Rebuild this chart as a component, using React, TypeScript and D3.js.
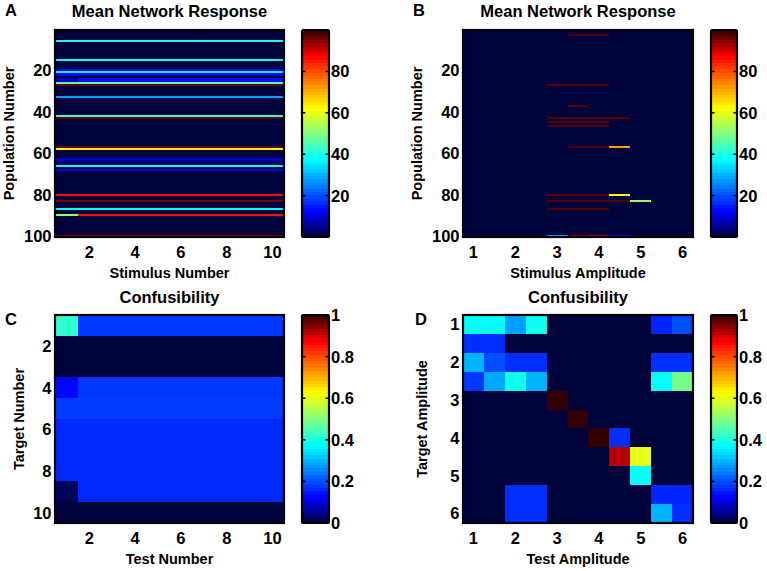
import React from 'react';
import * as d3 from 'd3';

// ---------------- data ----------------
const populationNumbers = d3.range(1, 101);
const stimulusNumbers = [1, 2, 3, 4, 5, 6, 7, 8, 9, 10];
const stimulusAmplitudes = [1, 1.5, 2, 2.5, 3, 3.5, 4, 4.5, 5, 5.5, 6];
const targetNumbers = [1, 2, 3, 4, 5, 6, 7, 8, 9, 10];
const testNumbers = [1, 2, 3, 4, 5, 6, 7, 8, 9, 10];
const targetAmplitudes = [1, 1.5, 2, 2.5, 3, 3.5, 4, 4.5, 5, 5.5, 6];
const testAmplitudes = [1, 1.5, 2, 2.5, 3, 3.5, 4, 4.5, 5, 5.5, 6];

// Panel A: populations with a non-zero mean response (all other rows are 0)
const responseARows = [6, 15, 20, 21, 22, 24, 25, 26, 27, 33, 42, 43, 57, 58, 63, 64, 66, 68, 80, 83, 87, 90, 100];
const responseAValues = [
  [40, 40, 40, 40, 40, 40, 40, 40, 40, 40],
  [38, 38, 38, 38, 38, 38, 38, 38, 38, 38],
  [12, 12, 12, 12, 12, 12, 12, 12, 12, 12],
  [37, 37, 37, 37, 37, 37, 37, 37, 37, 37],
  [12, 12, 12, 12, 12, 12, 12, 12, 12, 12],
  [9, 14, 14, 14, 14, 14, 14, 14, 14, 14],
  [9, 14, 14, 14, 14, 14, 14, 14, 14, 14],
  [47, 47, 47, 47, 47, 47, 47, 47, 47, 47],
  [97, 97, 97, 97, 97, 97, 97, 97, 97, 97],
  [28, 28, 28, 28, 28, 28, 28, 28, 28, 28],
  [43, 43, 43, 43, 43, 43, 43, 43, 43, 43],
  [97, 97, 97, 97, 97, 97, 97, 97, 97, 97],
  [97, 97, 97, 97, 97, 97, 97, 97, 97, 97],
  [63, 63, 63, 63, 63, 63, 63, 63, 63, 63],
  [10, 10, 10, 10, 10, 10, 10, 10, 10, 10],
  [7, 7, 7, 7, 7, 7, 7, 7, 7, 7],
  [38, 38, 38, 38, 38, 38, 38, 38, 38, 38],
  [10, 10, 10, 10, 10, 10, 10, 10, 10, 10],
  [86, 86, 86, 86, 86, 86, 86, 86, 86, 86],
  [96, 96, 96, 96, 96, 96, 96, 96, 96, 96],
  [38, 38, 38, 38, 38, 38, 38, 38, 38, 38],
  [52, 86, 86, 86, 86, 86, 86, 86, 86, 86],
  [96, 96, 96, 96, 96, 96, 96, 96, 96, 96],
];

// Panel B: populations with a non-zero response, columns = amplitudes 1..6 step 0.5
const responseBRows = [3, 27, 37, 43, 45, 47, 57, 80, 83, 87, 100];
const responseBValues = [
  [0, 0, 0, 0, 0, 98, 98, 0, 0, 0, 0],
  [0, 0, 0, 0, 98, 98, 98, 0, 0, 0, 0],
  [0, 0, 0, 0, 0, 98, 0, 0, 0, 0, 0],
  [0, 0, 0, 0, 98, 98, 98, 98, 0, 0, 0],
  [0, 0, 0, 0, 98, 98, 98, 0, 0, 0, 0],
  [0, 0, 0, 0, 98, 98, 98, 0, 0, 0, 0],
  [0, 0, 0, 0, 0, 98, 98, 72, 0, 0, 0],
  [0, 0, 0, 0, 98, 98, 98, 62, 0, 0, 0],
  [0, 0, 0, 0, 98, 98, 98, 98, 52, 0, 0],
  [0, 0, 0, 0, 98, 98, 98, 0, 0, 0, 0],
  [0, 0, 0, 0, 30, 98, 92, 12, 0, 0, 0],
];

// Panel C: confusibility, rows = target number, cols = test number
const confusibilityC = [
  [0.42, 0.18, 0.18, 0.18, 0.18, 0.18, 0.18, 0.18, 0.18, 0.18],
  [0, 0, 0, 0, 0, 0, 0, 0, 0, 0],
  [0, 0, 0, 0, 0, 0, 0, 0, 0, 0],
  [0.13, 0.18, 0.18, 0.18, 0.18, 0.18, 0.18, 0.18, 0.18, 0.18],
  [0.185, 0.185, 0.185, 0.185, 0.185, 0.185, 0.185, 0.185, 0.185, 0.185],
  [0.165, 0.165, 0.165, 0.165, 0.165, 0.165, 0.165, 0.165, 0.165, 0.165],
  [0.165, 0.165, 0.165, 0.165, 0.165, 0.165, 0.165, 0.165, 0.165, 0.165],
  [0.165, 0.165, 0.165, 0.165, 0.165, 0.165, 0.165, 0.165, 0.165, 0.165],
  [0.02, 0.165, 0.165, 0.165, 0.165, 0.165, 0.165, 0.165, 0.165, 0.165],
  [0, 0, 0, 0, 0, 0, 0, 0, 0, 0],
];

// Panel D: confusibility, rows = target amplitude, cols = test amplitude
const confusibilityD = [
  [0.38, 0.38, 0.28, 0.39, 0, 0, 0, 0, 0, 0.16, 0.2],
  [0.17, 0.17, 0, 0, 0, 0, 0, 0, 0, 0, 0],
  [0.3, 0.2, 0.17, 0.17, 0, 0, 0, 0, 0, 0.17, 0.17],
  [0.18, 0.29, 0.39, 0.3, 0, 0, 0, 0, 0, 0.38, 0.49],
  [0, 0, 0, 0, 1, 0, 0, 0, 0, 0, 0],
  [0, 0, 0, 0, 0, 1, 0, 0, 0, 0, 0],
  [0, 0, 0, 0, 0, 0, 1, 0.17, 0, 0, 0],
  [0, 0, 0, 0, 0, 0, 0, 0.92, 0.6, 0, 0],
  [0, 0, 0, 0, 0, 0, 0, 0, 0.38, 0, 0],
  [0, 0, 0.17, 0.17, 0, 0, 0, 0, 0, 0.16, 0.16],
  [0, 0, 0.17, 0.17, 0, 0, 0, 0, 0, 0.3, 0.17],
];

// ticks
const ticksStimulusNumber = [2, 4, 6, 8, 10];
const ticksPopulation = [20, 40, 60, 80, 100];
const ticksAmplitude = [1, 2, 3, 4, 5, 6];
const ticksNumber = [2, 4, 6, 8, 10];
const ticksResponseBar = [20, 40, 60, 80];
const ticksConfBar = [0, 0.2, 0.4, 0.6, 0.8, 1];
const responseLimits = [0, 100];
const confLimits = [0, 1];

// ---------------- style ----------------
const FONT = '"Liberation Sans", Arial, Helvetica, sans-serif';
const jet = d3
  .scaleLinear<string>()
  .domain([0, 0.125, 0.375, 0.625, 0.875, 1])
  .range(['rgb(0,2,60)', 'rgb(0,0,255)', 'rgb(0,255,255)', 'rgb(255,255,0)', 'rgb(255,0,0)', 'rgb(50,0,0)'])
  .interpolate(d3.interpolateRgb)
  .clamp(true);

const matrixA = populationNumbers.map((p) => {
  const i = responseARows.indexOf(p);
  return i >= 0 ? responseAValues[i] : stimulusNumbers.map(() => 0);
});
const matrixB = populationNumbers.map((p) => {
  const i = responseBRows.indexOf(p);
  return i >= 0 ? responseBValues[i] : stimulusAmplitudes.map(() => 0);
});

type PanelProps = {
  box: { x: number; y: number; w: number; h: number };
  cb: { x: number; w: number };
  xs: number[];
  ys: number[];
  step: number;
  matrix: number[][];
  clim: number[];
  xTicks: number[];
  yTicks: number[];
  cbTicks: number[];
  title: string;
  titleY: number;
  letter: string;
  letterPos: [number, number];
  xLabel: string;
  yLabel: string;
  yLabelX: number;
};

function Panel(p: PanelProps) {
  const { box, cb, xs, ys, step, matrix, clim } = p;
  const xScale = d3
    .scaleLinear()
    .domain([xs[0] - step / 2, xs[xs.length - 1] + step / 2])
    .range([box.x, box.x + box.w]);
  const yStep = ys[1] - ys[0];
  const yScale = d3
    .scaleLinear()
    .domain([ys[0] - yStep / 2, ys[ys.length - 1] + yStep / 2])
    .range([box.y, box.y + box.h]);
  const color = (v: number) => jet((v - clim[0]) / (clim[1] - clim[0]));
  const cbScale = d3.scaleLinear().domain(clim).range([box.y + box.h, box.y]);
  const levels = d3.range(64);
  const cx = box.x + box.w / 2;
  const fmt = (v: number) => String(v);
  return (
    <g>
      <g shapeRendering="crispEdges">
        {matrix.map((row, ri) =>
          row.map((v, ci) => (
            <rect
              key={ri + '-' + ci}
              x={xScale(xs[ci] - step / 2)}
              y={yScale(ys[ri] - yStep / 2)}
              width={xScale(xs[ci] + step / 2) - xScale(xs[ci] - step / 2) + 0.3}
              height={yScale(ys[ri] + yStep / 2) - yScale(ys[ri] - yStep / 2) + 0.3}
              fill={color(v)}
            />
          ))
        )}
      </g>
      <rect x={box.x} y={box.y} width={box.w} height={box.h} fill="none" stroke="#000" strokeWidth={2.2} />
      {/* colorbar */}
      <g shapeRendering="crispEdges">
        {levels.map((i) => {
          const v0 = clim[0] + ((clim[1] - clim[0]) * i) / 64;
          const v1 = clim[0] + ((clim[1] - clim[0]) * (i + 1)) / 64;
          return (
            <rect
              key={i}
              x={cb.x}
              y={cbScale(v1)}
              width={cb.w}
              height={cbScale(v0) - cbScale(v1) + 0.5}
              fill={jet((i + 0.5) / 64)}
            />
          );
        })}
      </g>
      {p.cbTicks.map((t) => (
        <g key={'cbt' + t}>
          <line x1={cb.x} x2={cb.x + 3.5} y1={cbScale(t)} y2={cbScale(t)} stroke="#000" strokeWidth={1.5} />
          <line x1={cb.x + cb.w - 3.5} x2={cb.x + cb.w} y1={cbScale(t)} y2={cbScale(t)} stroke="#000" strokeWidth={1.5} />
          <text
            x={cb.x + cb.w + 2}
            y={cbScale(t)}
            dy="0.36em"
            fontSize={16.5}
            fontWeight="bold"
            fontFamily={FONT}
          >
            {fmt(t)}
          </text>
        </g>
      ))}
      <rect x={cb.x} y={box.y} width={cb.w} height={box.h} fill="none" stroke="#000" strokeWidth={2.2} rx={1.5} />
      {/* axes tick labels */}
      {p.xTicks.map((t) => (
        <text
          key={'xt' + t}
          x={xScale(t)}
          y={box.y + box.h + 20.5}
          textAnchor="middle"
          fontSize={16.5}
          fontWeight="bold"
          fontFamily={FONT}
        >
          {fmt(t)}
        </text>
      ))}
      {p.yTicks.map((t) => (
        <text
          key={'yt' + t}
          x={box.x - 3.5}
          y={yScale(t)}
          dy="0.36em"
          textAnchor="end"
          fontSize={16.5}
          fontWeight="bold"
          fontFamily={FONT}
        >
          {fmt(t)}
        </text>
      ))}
      <text x={cx} y={box.y + box.h + 41} textAnchor="middle" fontSize={14.5} fontWeight="bold" fontFamily={FONT}>
        {p.xLabel}
      </text>
      <text
        transform={`translate(${p.yLabelX},${box.y + box.h / 2}) rotate(-90)`}
        textAnchor="middle"
        fontSize={14.5}
        fontWeight="bold"
        fontFamily={FONT}
      >
        {p.yLabel}
      </text>
      <text x={cx} y={p.titleY} textAnchor="middle" fontSize={16.5} fontWeight="bold" fontFamily={FONT}>
        {p.title}
      </text>
      <text x={p.letterPos[0]} y={p.letterPos[1]} fontSize={16.5} fontWeight="bold" fontFamily={FONT}>
        {p.letter}
      </text>
    </g>
  );
}

export default function App() {
  return (
    <svg
      width={767}
      height={571}
      style={{ position: 'absolute', left: 0, top: 0, background: '#fff' }}
    >
      <rect x={0} y={0} width={767} height={571} fill="#fff" />
      <Panel
        box={{ x: 55, y: 30, w: 229, h: 207 }}
        cb={{ x: 302, w: 27 }}
        xs={stimulusNumbers}
        ys={populationNumbers}
        step={1}
        matrix={matrixA}
        clim={responseLimits}
        xTicks={ticksStimulusNumber}
        yTicks={ticksPopulation}
        cbTicks={ticksResponseBar}
        title="Mean Network Response"
        titleY={17}
        letter="A"
        letterPos={[5, 16]}
        xLabel="Stimulus Number"
        yLabel="Population Number"
        yLabelX={13.5}
      />
      <Panel
        box={{ x: 463, y: 30, w: 230, h: 207 }}
        cb={{ x: 711, w: 26 }}
        xs={stimulusAmplitudes}
        ys={populationNumbers}
        step={0.5}
        matrix={matrixB}
        clim={responseLimits}
        xTicks={ticksAmplitude}
        yTicks={ticksPopulation}
        cbTicks={ticksResponseBar}
        title="Mean Network Response"
        titleY={17}
        letter="B"
        letterPos={[413, 16]}
        xLabel="Stimulus Amplitude"
        yLabel="Population Number"
        yLabelX={421.5}
      />
      <Panel
        box={{ x: 55, y: 315, w: 229, h: 208 }}
        cb={{ x: 302, w: 27 }}
        xs={testNumbers}
        ys={targetNumbers}
        step={1}
        matrix={confusibilityC}
        clim={confLimits}
        xTicks={ticksNumber}
        yTicks={ticksNumber}
        cbTicks={ticksConfBar}
        title="Confusibility"
        titleY={303}
        letter="C"
        letterPos={[5, 325]}
        xLabel="Test Number"
        yLabel="Target Number"
        yLabelX={23.5}
      />
      <Panel
        box={{ x: 463, y: 315, w: 230, h: 208 }}
        cb={{ x: 711, w: 26 }}
        xs={testAmplitudes}
        ys={targetAmplitudes}
        step={0.5}
        matrix={confusibilityD}
        clim={confLimits}
        xTicks={ticksAmplitude}
        yTicks={ticksAmplitude}
        cbTicks={ticksConfBar}
        title="Confusibility"
        titleY={303}
        letter="D"
        letterPos={[415, 325]}
        xLabel="Test Amplitude"
        yLabel="Target Amplitude"
        yLabelX={426.5}
      />
    </svg>
  );
}
